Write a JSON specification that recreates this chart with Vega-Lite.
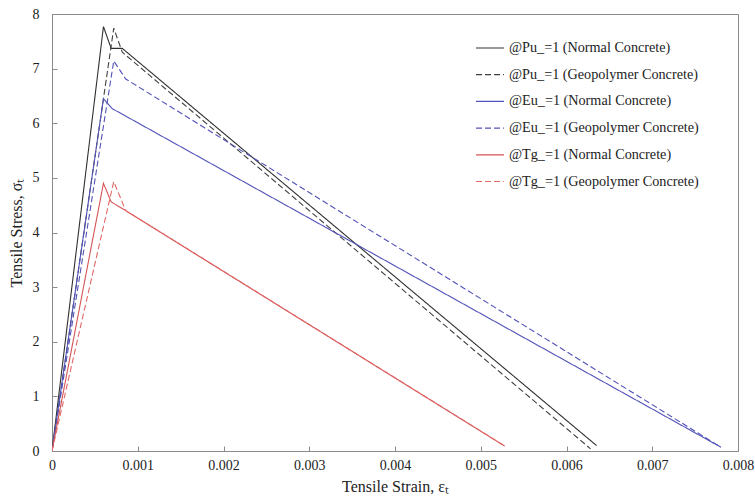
{
  "$schema": "https://vega.github.io/schema/vega-lite/v6.json",
  "width": 686,
  "height": 437,
  "autosize": {"type": "none"},
  "padding": {"left": 52, "top": 14, "right": 17, "bottom": 50},
  "background": "white",
  "config": {
    "view": {"stroke": "#8a8a8a", "strokeWidth": 1},
    "font": "Liberation Serif"
  },
  "data": {
    "values": [
      {"s": "@Pu_=1 (Normal Concrete)", "o": 0, "x": 0, "y": 0},
      {"s": "@Pu_=1 (Normal Concrete)", "o": 1, "x": 0.0006, "y": 7.77},
      {"s": "@Pu_=1 (Normal Concrete)", "o": 2, "x": 0.00069, "y": 7.37},
      {"s": "@Pu_=1 (Normal Concrete)", "o": 3, "x": 0.00082, "y": 7.37},
      {"s": "@Pu_=1 (Normal Concrete)", "o": 4, "x": 0.00635, "y": 0.1},
      {"s": "@Pu_=1 (Geopolymer Concrete)", "o": 0, "x": 0, "y": 0},
      {"s": "@Pu_=1 (Geopolymer Concrete)", "o": 1, "x": 0.00072, "y": 7.74},
      {"s": "@Pu_=1 (Geopolymer Concrete)", "o": 2, "x": 0.00082, "y": 7.3},
      {"s": "@Pu_=1 (Geopolymer Concrete)", "o": 3, "x": 0.00628, "y": 0.04},
      {"s": "@Eu_=1 (Normal Concrete)", "o": 0, "x": 0, "y": 0},
      {"s": "@Eu_=1 (Normal Concrete)", "o": 1, "x": 0.0006, "y": 6.45},
      {"s": "@Eu_=1 (Normal Concrete)", "o": 2, "x": 0.0007, "y": 6.27},
      {"s": "@Eu_=1 (Normal Concrete)", "o": 3, "x": 0.0078, "y": 0.07},
      {"s": "@Eu_=1 (Geopolymer Concrete)", "o": 0, "x": 0, "y": 0},
      {"s": "@Eu_=1 (Geopolymer Concrete)", "o": 1, "x": 0.00072, "y": 7.14},
      {"s": "@Eu_=1 (Geopolymer Concrete)", "o": 2, "x": 0.00086, "y": 6.81},
      {"s": "@Eu_=1 (Geopolymer Concrete)", "o": 3, "x": 0.0078, "y": 0.07},
      {"s": "@Tg_=1 (Normal Concrete)", "o": 0, "x": 0, "y": 0},
      {"s": "@Tg_=1 (Normal Concrete)", "o": 1, "x": 0.0006, "y": 4.9},
      {"s": "@Tg_=1 (Normal Concrete)", "o": 2, "x": 0.00069, "y": 4.56},
      {"s": "@Tg_=1 (Normal Concrete)", "o": 3, "x": 0.00086, "y": 4.4},
      {"s": "@Tg_=1 (Normal Concrete)", "o": 4, "x": 0.00528, "y": 0.09},
      {"s": "@Tg_=1 (Geopolymer Concrete)", "o": 0, "x": 0, "y": 0},
      {"s": "@Tg_=1 (Geopolymer Concrete)", "o": 1, "x": 0.00072, "y": 4.93},
      {"s": "@Tg_=1 (Geopolymer Concrete)", "o": 2, "x": 0.00086, "y": 4.4},
      {"s": "@Tg_=1 (Geopolymer Concrete)", "o": 3, "x": 0.00528, "y": 0.09}
    ]
  },
  "mark": {"type": "line", "strokeWidth": 1.1, "clip": true},
  "encoding": {
    "x": {
      "field": "x", "type": "quantitative",
      "scale": {"domain": [0, 0.008], "nice": false, "zero": false},
      "axis": {
        "title": "Tensile Strain, εₜ",
        "titleFont": "Liberation Serif", "titleFontSize": 16, "titleFontWeight": "normal", "titleColor": "#222",
        "titlePadding": 6,
        "labelFont": "Liberation Serif", "labelFontSize": 14, "labelColor": "#222",
        "labelExpr": "datum.value == 0 ? '0' : format(datum.value, '.3f')",
        "values": [0, 0.001, 0.002, 0.003, 0.004, 0.005, 0.006, 0.007, 0.008],
        "tickSize": -5, "tickColor": "#8a8a8a", "domainColor": "#8a8a8a",
        "labelPadding": 12, "grid": false, "labelFlush": false
      }
    },
    "y": {
      "field": "y", "type": "quantitative",
      "scale": {"domain": [0, 8], "nice": false},
      "axis": {
        "title": "Tensile Stress, σₜ",
        "titleFont": "Liberation Serif", "titleFontSize": 16, "titleFontWeight": "normal", "titleColor": "#222",
        "titlePadding": 8,
        "labelFont": "Liberation Serif", "labelFontSize": 14, "labelColor": "#222",
        "values": [0, 1, 2, 3, 4, 5, 6, 7, 8],
        "tickSize": -5, "tickColor": "#8a8a8a", "domainColor": "#8a8a8a",
        "labelPadding": 18, "grid": false
      }
    },
    "order": {"field": "o", "type": "quantitative"},
    "color": {
      "field": "s", "type": "nominal",
      "scale": {
        "domain": ["@Pu_=1 (Normal Concrete)", "@Pu_=1 (Geopolymer Concrete)", "@Eu_=1 (Normal Concrete)", "@Eu_=1 (Geopolymer Concrete)", "@Tg_=1 (Normal Concrete)", "@Tg_=1 (Geopolymer Concrete)"],
        "range": ["#303030", "#404040", "#5252b8", "#5252b8", "#d45555", "#e06868"]
      },
      "legend": {
        "title": null, "orient": "none", "legendX": 423, "legendY": 19,
        "labelFont": "Liberation Serif", "labelFontSize": 14.2, "labelColor": "#222",
        "symbolType": "stroke", "symbolSize": 780, "symbolStrokeWidth": 1.2,
        "rowPadding": 3.7, "labelOffset": 4, "labelLimit": 400
      }
    },
    "strokeDash": {
      "field": "s", "type": "nominal",
      "scale": {
        "domain": ["@Pu_=1 (Normal Concrete)", "@Pu_=1 (Geopolymer Concrete)", "@Eu_=1 (Normal Concrete)", "@Eu_=1 (Geopolymer Concrete)", "@Tg_=1 (Normal Concrete)", "@Tg_=1 (Geopolymer Concrete)"],
        "range": [[1, 0], [6, 3], [1, 0], [6, 3], [1, 0], [6, 3]]
      }
    }
  }
}
